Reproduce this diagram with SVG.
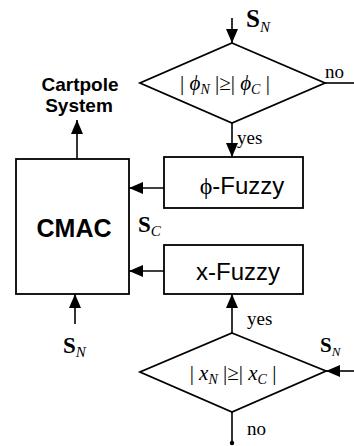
<svg xmlns="http://www.w3.org/2000/svg" width="354" height="446" viewBox="0 0 354 446">
<defs>
<marker id="ahL" markerWidth="14" markerHeight="12" refX="14" refY="6" orient="auto" markerUnits="userSpaceOnUse" viewBox="0 0 14 12">
<path d="M0,0 L14,6 L0,12 Z" fill="#000"/>
</marker>
</defs>
<style>
.shape{fill:#fff;stroke:#000;stroke-width:1.8}
.line{fill:none;stroke:#000;stroke-width:1.6}
.sans{font-family:"Liberation Sans",Arial,sans-serif;fill:#000}
.serif{font-family:"Liberation Serif","Times New Roman",serif;fill:#000}
.bold{font-weight:bold}
.it{font-style:italic}
</style>
<rect width="354" height="446" fill="#fff"/>
<g id="connectors">
<line class="line" x1="232" y1="18" x2="232" y2="43" marker-end="url(#ahL)"/>
<line class="line" x1="325" y1="83" x2="354" y2="83"/>
<line class="line" x1="232" y1="123" x2="232" y2="157" marker-end="url(#ahL)"/>
<line class="line" x1="164" y1="188" x2="129" y2="188" marker-end="url(#ahL)"/>
<line class="line" x1="164" y1="271" x2="129" y2="271" marker-end="url(#ahL)"/>
<line class="line" x1="77" y1="159" x2="77" y2="120" marker-end="url(#ahL)"/>
<line class="line" x1="75" y1="324" x2="75" y2="294" marker-end="url(#ahL)"/>
<line class="line" x1="232" y1="333" x2="232" y2="294" marker-end="url(#ahL)"/>
<line class="line" x1="354" y1="371" x2="326" y2="371" marker-end="url(#ahL)"/>
<line class="line" x1="232" y1="412" x2="232" y2="443"/>
<circle cx="232" cy="443" r="2.2" fill="#000"/>
<text class="serif" x="325" y="78" font-size="19">no</text>
<text class="serif" x="237" y="144" font-size="19">yes</text>
<text class="serif" x="247" y="325" font-size="19">yes</text>
<text class="serif" x="247" y="435" font-size="19">no</text>
<text class="serif" x="246" y="27"><tspan class="bold" font-size="25">S</tspan><tspan class="it" font-size="15" dy="5">N</tspan></text>
<text class="serif" x="138" y="232"><tspan class="bold" font-size="23">S</tspan><tspan class="it" font-size="15" dy="4">C</tspan></text>
<text class="serif" x="63" y="353"><tspan class="bold" font-size="23">S</tspan><tspan class="it" font-size="15" dy="4">N</tspan></text>
<text class="serif" x="320" y="352"><tspan class="bold" font-size="21">S</tspan><tspan class="it" font-size="13" dy="4">N</tspan></text>
</g>
<g id="decision-phi">
<polygon class="shape" points="232,43 325,83 232,123 140,83"/>
<text class="serif" x="225" y="90" font-size="21" text-anchor="middle">| <tspan class="it">ϕ</tspan><tspan class="it" font-size="14" dy="4">N</tspan><tspan dy="-4"> |≥| </tspan><tspan class="it">ϕ</tspan><tspan class="it" font-size="14" dy="4">C</tspan><tspan dy="-4"> |</tspan></text>
</g>
<g id="cartpole">
<text class="sans bold" x="80" y="91" font-size="19">
<tspan x="80" text-anchor="middle">Cartpole</tspan>
</text>
<text class="sans bold" x="79" y="112" font-size="19" text-anchor="middle">System</text>
</g>
<g id="phi-fuzzy">
<rect class="shape" x="164" y="157" width="139" height="51"/>
<text class="sans" x="242" y="194" font-size="24" text-anchor="middle"><tspan class="serif">ϕ</tspan>-Fuzzy</text>
</g>
<g id="cmac">
<rect class="shape" x="16" y="159" width="113" height="135"/>
<text class="sans bold" x="74" y="237" font-size="25" text-anchor="middle">CMAC</text>
</g>
<g id="x-fuzzy">
<rect class="shape" x="164" y="245" width="139" height="49"/>
<text class="sans" x="238" y="280" font-size="24" text-anchor="middle">x-Fuzzy</text>
</g>
<g id="decision-x">
<polygon class="shape" points="232,333 326,371 232,412 140,372"/>
<text class="serif" x="233" y="380" font-size="21" text-anchor="middle">| <tspan class="it">x</tspan><tspan class="it" font-size="14" dy="4">N</tspan><tspan dy="-4"> |≥| </tspan><tspan class="it">x</tspan><tspan class="it" font-size="14" dy="4">C</tspan><tspan dy="-4"> |</tspan></text>
</g>
</svg>
